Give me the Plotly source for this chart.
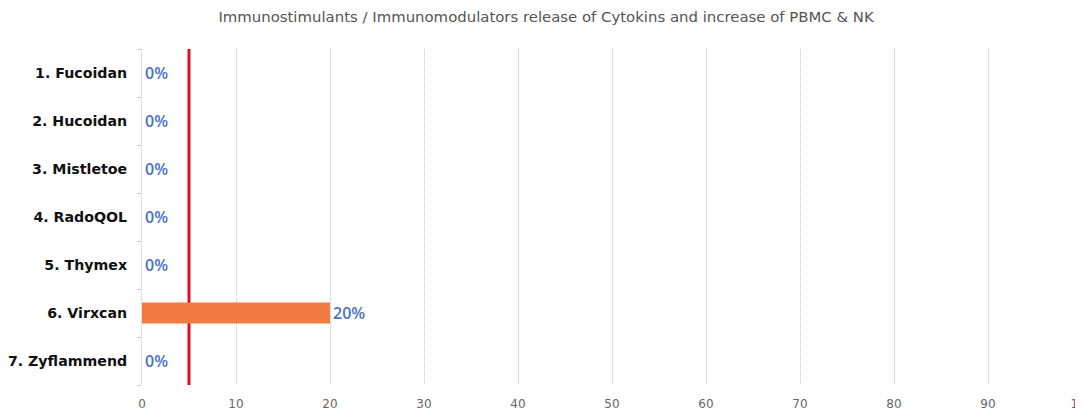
import plotly.graph_objects as go

categories = ["1. Fucoidan", "2. Hucoidan", "3. Mistletoe", "4. RadoQOL",
              "5. Thymex", "6. Virxcan", "7. Zyflammend"]
values = [0, 0, 0, 0, 0, 20, 0]
threshold = 5
x_ticks = [0, 10, 20, 30, 40, 50, 60, 70, 80, 90, 100]
title_text = "Immunostimulants / Immunomodulators release of Cytokins and increase of PBMC & NK"

fig = go.Figure()
fig.add_trace(go.Bar(
    y=categories, x=values, orientation="h",
    marker=dict(color="#F27C45", line=dict(width=0)),
    width=0.44,
    text=[f"{v}%" for v in values],
    textposition="outside",
    constraintext="none",
    cliponaxis=False,
    textfont=dict(family="Open Sans", size=16, color="#4A72C0", weight=600),
    showlegend=False,
))

fig.add_shape(type="line", xref="x", yref="paper", x0=threshold, x1=threshold,
              y0=0, y1=1, line=dict(color="#E0101E", width=3), layer="below")

# page body has 8px default margin; figure sized to fill the rest of the window
fig.update_layout(
    width=1075, height=404,
    margin=dict(l=134, r=1, t=41, b=27),
    paper_bgcolor="white", plot_bgcolor="white",
    title=dict(text=title_text, x=0.5005, xanchor="center", y=0.978, yanchor="middle",
               font=dict(family="DejaVu Sans", size=14.9, color="#555555")),
    xaxis=dict(range=[0, 100], tickvals=x_ticks, showgrid=True, gridcolor="#C4C4C4",
               griddash="1px,1px", gridwidth=1, zeroline=False, showline=False,
               tickfont=dict(family="DejaVu Sans", size=12, color="#666666"),
               ticks="", ticklabeloverflow="allow", automargin=False,
               ticklabelstandoff=10),
    yaxis=dict(categoryorder="array", categoryarray=categories[::-1],
               showgrid=False, showline=True, linecolor="#DDDDDD", linewidth=1,
               ticks="outside", tickson="boundaries", ticklen=4, tickcolor="#CCCCCC",
               tickfont=dict(family="DejaVu Sans", size=14.2, color="#111111", weight="bold"),
               ticklabelstandoff=11, automargin=False),
    bargap=0.5,
)

fig.write_html("out.html")
